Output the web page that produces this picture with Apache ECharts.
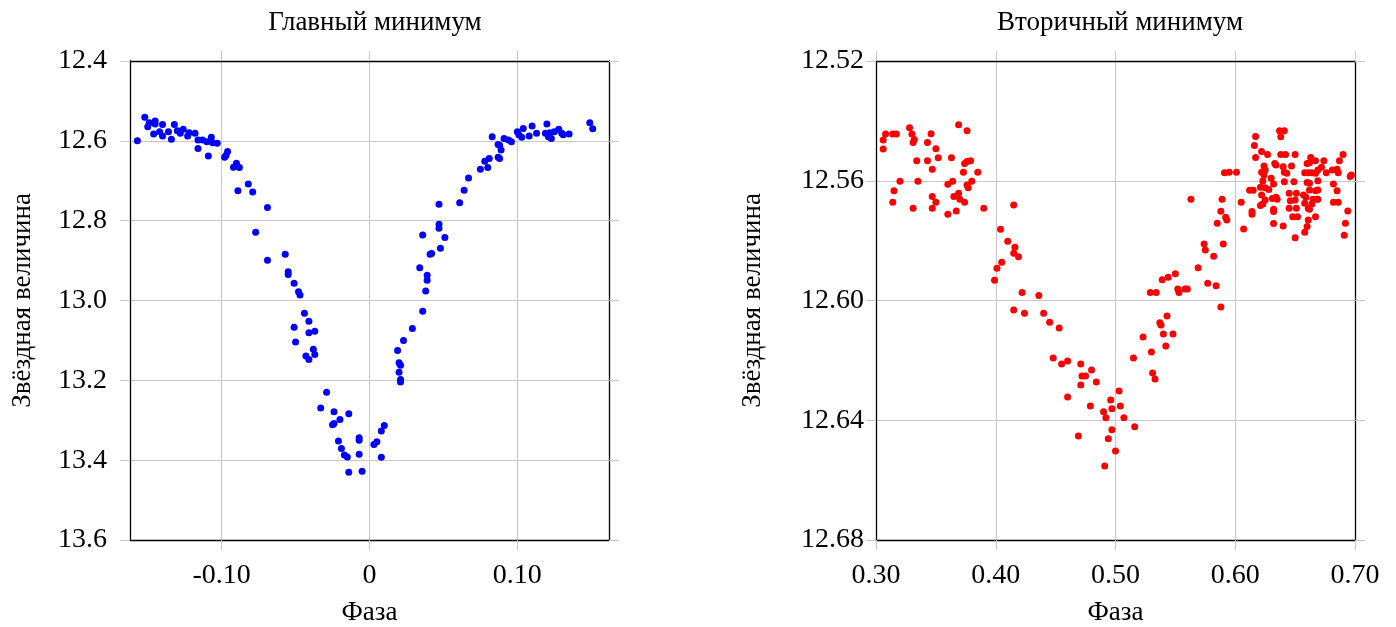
<!DOCTYPE html>
<html>
<head>
<meta charset="utf-8">
<title>Минимумы</title>
<script src="https://cdn.jsdelivr.net/npm/echarts@6/dist/echarts.min.js"></script>
<style>
  html, body { margin: 0; padding: 0; background: #fff; }
  #chart { width: 1396px; height: 627px; }
</style>
</head>
<body>
<div id="chart"></div>
<script>
// главный минимум: фаза и звёздная величина
const phaseMain = [
  -0.157, -0.152, -0.150, -0.149, -0.145, -0.145, -0.146, -0.142, -0.140, -0.140,
  -0.136, -0.134, -0.132, -0.130, -0.128, -0.126, -0.123, -0.122, -0.118, -0.116,
  -0.116, -0.113, -0.110, -0.107, -0.109, -0.106, -0.103, -0.097, -0.096, -0.098,
  -0.090, -0.092, -0.088, -0.082, -0.089, -0.079, -0.069, -0.077, -0.069, -0.057,
  -0.055, -0.055, -0.051, -0.048, -0.047, -0.044, -0.041, -0.051, -0.041, -0.037,
  -0.050, -0.038, -0.037, -0.043, -0.041, -0.029, -0.033, -0.024, -0.014, -0.020,
  -0.025, -0.024, -0.021, -0.007, -0.007, -0.019, -0.017, -0.015, -0.007, -0.014,
  -0.005, 0.003, 0.005, 0.008, 0.010, 0.008, 0.020, 0.021, 0.020, 0.021,
  0.021, 0.019, 0.023, 0.029, 0.036, 0.038, 0.039, 0.039, 0.034, 0.041,
  0.042, 0.048, 0.036, 0.051, 0.047, 0.047, 0.047, 0.061, 0.064, 0.067,
  0.075, 0.080, 0.078, 0.081, 0.087, 0.088, 0.089, 0.087, 0.088, 0.083,
  0.091, 0.094, 0.096, 0.100, 0.101, 0.103, 0.104, 0.108, 0.110, 0.113,
  0.120, 0.119, 0.122, 0.121, 0.123, 0.125, 0.128, 0.130, 0.131, 0.135,
  0.149, 0.151
]
const magMain = [
  12.600, 12.541, 12.565, 12.555, 12.550, 12.558, 12.583, 12.577, 12.559, 12.588,
  12.577, 12.596, 12.559, 12.575, 12.581, 12.571, 12.588, 12.580, 12.581, 12.598,
  12.619, 12.598, 12.602, 12.591, 12.638, 12.605, 12.606, 12.636, 12.627, 12.641,
  12.656, 12.666, 12.667, 12.708, 12.725, 12.728, 12.767, 12.829, 12.899, 12.884,
  12.928, 12.935, 12.957, 12.978, 12.986, 13.032, 13.052, 13.067, 13.081, 13.077,
  13.104, 13.122, 13.135, 13.139, 13.148, 13.230, 13.269, 13.279, 13.284, 13.298,
  13.311, 13.308, 13.352, 13.344, 13.350, 13.371, 13.387, 13.392, 13.385, 13.430,
  13.428, 13.361, 13.354, 13.327, 13.313, 13.393, 13.156, 13.162, 13.180, 13.198,
  13.204, 13.125, 13.100, 13.070, 13.027, 12.976, 12.949, 12.937, 12.918, 12.884,
  12.882, 12.869, 12.836, 12.842, 12.819, 12.809, 12.759, 12.755, 12.724, 12.693,
  12.671, 12.667, 12.651, 12.644, 12.641, 12.644, 12.623, 12.609, 12.611, 12.590,
  12.594, 12.598, 12.602, 12.577, 12.585, 12.591, 12.569, 12.588, 12.563, 12.581,
  12.558, 12.581, 12.580, 12.590, 12.594, 12.577, 12.571, 12.581, 12.585, 12.583,
  12.555, 12.570
]

// вторичный минимум: [фаза, величина]
const secPoints = [
  [0.306, 12.5464], [0.306, 12.5494], [0.308, 12.5444], [0.314, 12.5444], [0.317, 12.5444],
  [0.315, 12.5633], [0.314, 12.5672], [0.320, 12.5602], [0.328, 12.5423], [0.330, 12.5444],
  [0.332, 12.5462], [0.331, 12.5472], [0.334, 12.5533], [0.335, 12.5602], [0.331, 12.5692],
  [0.343, 12.5472], [0.346, 12.5443], [0.350, 12.5493], [0.343, 12.5533], [0.352, 12.5523],
  [0.347, 12.5562], [0.347, 12.5653], [0.350, 12.5672], [0.347, 12.5692], [0.360, 12.5712],
  [0.363, 12.5523], [0.364, 12.5602], [0.360, 12.5612], [0.365, 12.5653], [0.367, 12.5701],
  [0.369, 12.5642], [0.370, 12.5662], [0.374, 12.5672], [0.369, 12.5413], [0.376, 12.5433],
  [0.374, 12.5542], [0.376, 12.5536], [0.379, 12.5533], [0.373, 12.5572], [0.385, 12.5572],
  [0.376, 12.5614], [0.377, 12.5623], [0.380, 12.5602], [0.390, 12.5692],
  [0.415, 12.5681], [0.404, 12.5762], [0.410, 12.5802], [0.416, 12.5822], [0.415, 12.5842],
  [0.419, 12.5854], [0.405, 12.5872], [0.401, 12.5892], [0.399, 12.5932], [0.422, 12.5973],
  [0.436, 12.5983], [0.415, 12.6032], [0.424, 12.6043], [0.440, 12.6043], [0.445, 12.6073],
  [0.453, 12.6092],
  [0.448, 12.6192], [0.455, 12.6212], [0.460, 12.6202], [0.460, 12.6322], [0.471, 12.6212],
  [0.480, 12.6232], [0.472, 12.6252], [0.475, 12.6252], [0.471, 12.6282], [0.484, 12.6272],
  [0.479, 12.6352], [0.469, 12.6453], [0.503, 12.6302], [0.496, 12.6332], [0.497, 12.6362],
  [0.504, 12.6352], [0.490, 12.6372], [0.492, 12.6392], [0.507, 12.6392], [0.516, 12.6422],
  [0.497, 12.6432], [0.494, 12.6462], [0.500, 12.6503], [0.491, 12.6553], [0.515, 12.6192],
  [0.523, 12.6122], [0.530, 12.6172], [0.531, 12.6242], [0.533, 12.6262], [0.537, 12.6074],
  [0.538, 12.6082], [0.540, 12.6112], [0.548, 12.6112], [0.542, 12.6152],
  [0.591, 12.5573], [0.563, 12.5662], [0.589, 12.5662], [0.588, 12.5702], [0.592, 12.5722],
  [0.593, 12.5731], [0.585, 12.5742], [0.574, 12.5811], [0.590, 12.5811], [0.575, 12.5831],
  [0.582, 12.5852], [0.569, 12.5891], [0.550, 12.5911], [0.544, 12.5922], [0.539, 12.5931],
  [0.577, 12.5942], [0.584, 12.5951], [0.529, 12.5973], [0.534, 12.5973], [0.552, 12.5962],
  [0.553, 12.5973], [0.558, 12.5962], [0.560, 12.5962], [0.588, 12.6022], [0.543, 12.6052],
  [0.595, 12.5572], [0.601, 12.5572], [0.607, 12.5761], [0.605, 12.5672], [0.614, 12.5703],
  [0.614, 12.5712], [0.612, 12.5632], [0.615, 12.5632], [0.617, 12.5452], [0.616, 12.5482],
  [0.617, 12.5522], [0.622, 12.5502], [0.627, 12.5512], [0.624, 12.5551], [0.625, 12.5564],
  [0.622, 12.5572], [0.624, 12.5581], [0.623, 12.5601], [0.630, 12.5592], [0.632, 12.5611],
  [0.621, 12.5622], [0.625, 12.5623], [0.628, 12.5629], [0.622, 12.5648], [0.625, 12.5664],
  [0.623, 12.5678], [0.621, 12.5683], [0.631, 12.5659], [0.634, 12.5655], [0.635, 12.5662],
  [0.632, 12.5695], [0.632, 12.5703], [0.632, 12.5743], [0.637, 12.5433], [0.641, 12.5433],
  [0.638, 12.5453], [0.638, 12.5512], [0.642, 12.5512], [0.633, 12.5542], [0.634, 12.5547],
  [0.640, 12.5553], [0.647, 12.5551], [0.641, 12.5572], [0.643, 12.5575], [0.650, 12.5512],
  [0.641, 12.5603], [0.649, 12.5603], [0.645, 12.5642], [0.651, 12.5642], [0.646, 12.5667],
  [0.650, 12.5664], [0.645, 12.5692], [0.651, 12.5692], [0.648, 12.5720], [0.652, 12.5720],
  [0.640, 12.5751], [0.650, 12.5790], [0.657, 12.5648], [0.659, 12.5655], [0.658, 12.5675],
  [0.660, 12.5606], [0.662, 12.5608], [0.658, 12.5573], [0.661, 12.5573], [0.664, 12.5573],
  [0.660, 12.5542], [0.662, 12.5540], [0.663, 12.5522], [0.667, 12.5533], [0.662, 12.5631],
  [0.667, 12.5633], [0.665, 12.5662], [0.668, 12.5662], [0.661, 12.5692], [0.662, 12.5695],
  [0.664, 12.5678], [0.667, 12.5720], [0.661, 12.5731], [0.660, 12.5753], [0.658, 12.5772],
  [0.669, 12.5600], [0.667, 12.5575], [0.669, 12.5564], [0.672, 12.5555], [0.674, 12.5533],
  [0.676, 12.5573], [0.669, 12.5631], [0.669, 12.5662], [0.681, 12.5564], [0.685, 12.5562],
  [0.686, 12.5573], [0.687, 12.5533], [0.690, 12.5512], [0.682, 12.5611], [0.685, 12.5633],
  [0.682, 12.5672], [0.686, 12.5672], [0.694, 12.5701], [0.692, 12.5742], [0.691, 12.5782],
  [0.696, 12.5586], [0.697, 12.5581]
]

// подписи делений
const mainPhaseTicks = [-0.1, 0, 0.1]

const FONT = 'Liberation Serif'
const GRID_GRAY = '#c8c8c8'

const chart = echarts.init(document.getElementById('chart'))

const tick = { show: true, inside: false, length: 10, lineStyle: { color: GRID_GRAY, width: 1 } }
const line = { show: true, onZero: false, lineStyle: { color: '#000', width: 1.3 } }
const split = { show: true, lineStyle: { color: GRID_GRAY, width: 1 } }
const label = { color: '#000', fontFamily: FONT, fontSize: 28 }
const nameStyle = { color: '#000', fontFamily: FONT, fontSize: 27 }

// зеркальные оси сверху и справа (только рамка и штрихи)
function mirrorX(grid, min, max, extra) {
  return Object.assign({
    gridIndex: grid, type: 'value', position: 'top', min, max,
    axisLine: line, axisTick: tick, axisLabel: { show: false }, splitLine: { show: false }
  }, extra)
}
function mirrorY(grid, min, max, extra) {
  return Object.assign({
    gridIndex: grid, type: 'value', position: 'right', inverse: true, min, max,
    axisLine: line, axisTick: tick, axisLabel: { show: false }, splitLine: { show: false }
  }, extra)
}

const option = {
  animation: false,
  backgroundColor: '#fff',
  title: [
    { text: 'Главный минимум', left: 370, top: 4, textAlign: 'center',
      textStyle: { fontFamily: FONT, fontSize: 27, fontWeight: 'normal', color: '#000' } },
    { text: 'Вторичный минимум', left: 1115, top: 4, textAlign: 'center',
      textStyle: { fontFamily: FONT, fontSize: 27, fontWeight: 'normal', color: '#000' } }
  ],
  grid: [
    { left: 130, top: 61, width: 479, height: 479, outerBoundsMode: 'none', containLabel: false },
    { left: 876, top: 61, width: 479, height: 479, outerBoundsMode: 'none', containLabel: false }
  ],
  xAxis: [
    {
      gridIndex: 0, type: 'value', position: 'bottom', min: -0.162, max: 0.162,
      name: 'Фаза', nameLocation: 'middle', nameGap: 59, nameTextStyle: nameStyle,
      axisLine: line,
      axisTick: Object.assign({}, tick, { customValues: mainPhaseTicks }),
      axisLabel: Object.assign({}, label, {
        customValues: mainPhaseTicks, margin: 22,
        formatter: v => (v === 0 ? '0' : v.toFixed(2))
      }),
      splitLine: split
    },
    mirrorX(0, -0.162, 0.162, { axisTick: Object.assign({}, tick, { customValues: mainPhaseTicks }) }),
    {
      gridIndex: 1, type: 'value', position: 'bottom', min: 0.3, max: 0.7, interval: 0.1,
      name: 'Фаза', nameLocation: 'middle', nameGap: 59, nameTextStyle: nameStyle,
      axisLine: line, axisTick: tick,
      axisLabel: Object.assign({}, label, { margin: 22, formatter: v => v.toFixed(2) }),
      splitLine: split
    },
    mirrorX(1, 0.3, 0.7, { interval: 0.1 })
  ],
  yAxis: [
    {
      gridIndex: 0, type: 'value', position: 'left', inverse: true, min: 12.4, max: 13.6, interval: 0.2,
      name: 'Звёздная величина', nameLocation: 'middle', nameGap: 94, nameTextStyle: nameStyle,
      axisLine: line, axisTick: tick,
      axisLabel: Object.assign({}, label, { margin: 23, formatter: v => v.toFixed(1) }),
      splitLine: split
    },
    mirrorY(0, 12.4, 13.6, { interval: 0.2 }),
    {
      gridIndex: 1, type: 'value', position: 'left', inverse: true, min: 12.52, max: 12.68, interval: 0.04,
      name: 'Звёздная величина', nameLocation: 'middle', nameGap: 110, nameTextStyle: nameStyle,
      axisLine: line, axisTick: tick,
      axisLabel: Object.assign({}, label, { margin: 12, formatter: v => v.toFixed(2) }),
      splitLine: split
    },
    mirrorY(1, 12.52, 12.68, { interval: 0.04 })
  ],
  series: [
    {
      type: 'scatter', xAxisIndex: 0, yAxisIndex: 0, symbolSize: 7,
      itemStyle: { color: '#0000ff', opacity: 1 },
      data: phaseMain.map((p, i) => [p, magMain[i]])
    },
    {
      type: 'scatter', xAxisIndex: 2, yAxisIndex: 2, symbolSize: 7,
      itemStyle: { color: '#ff0000', opacity: 1 },
      data: secPoints
    }
  ]
}

chart.setOption(option)
</script>
</body>
</html>
